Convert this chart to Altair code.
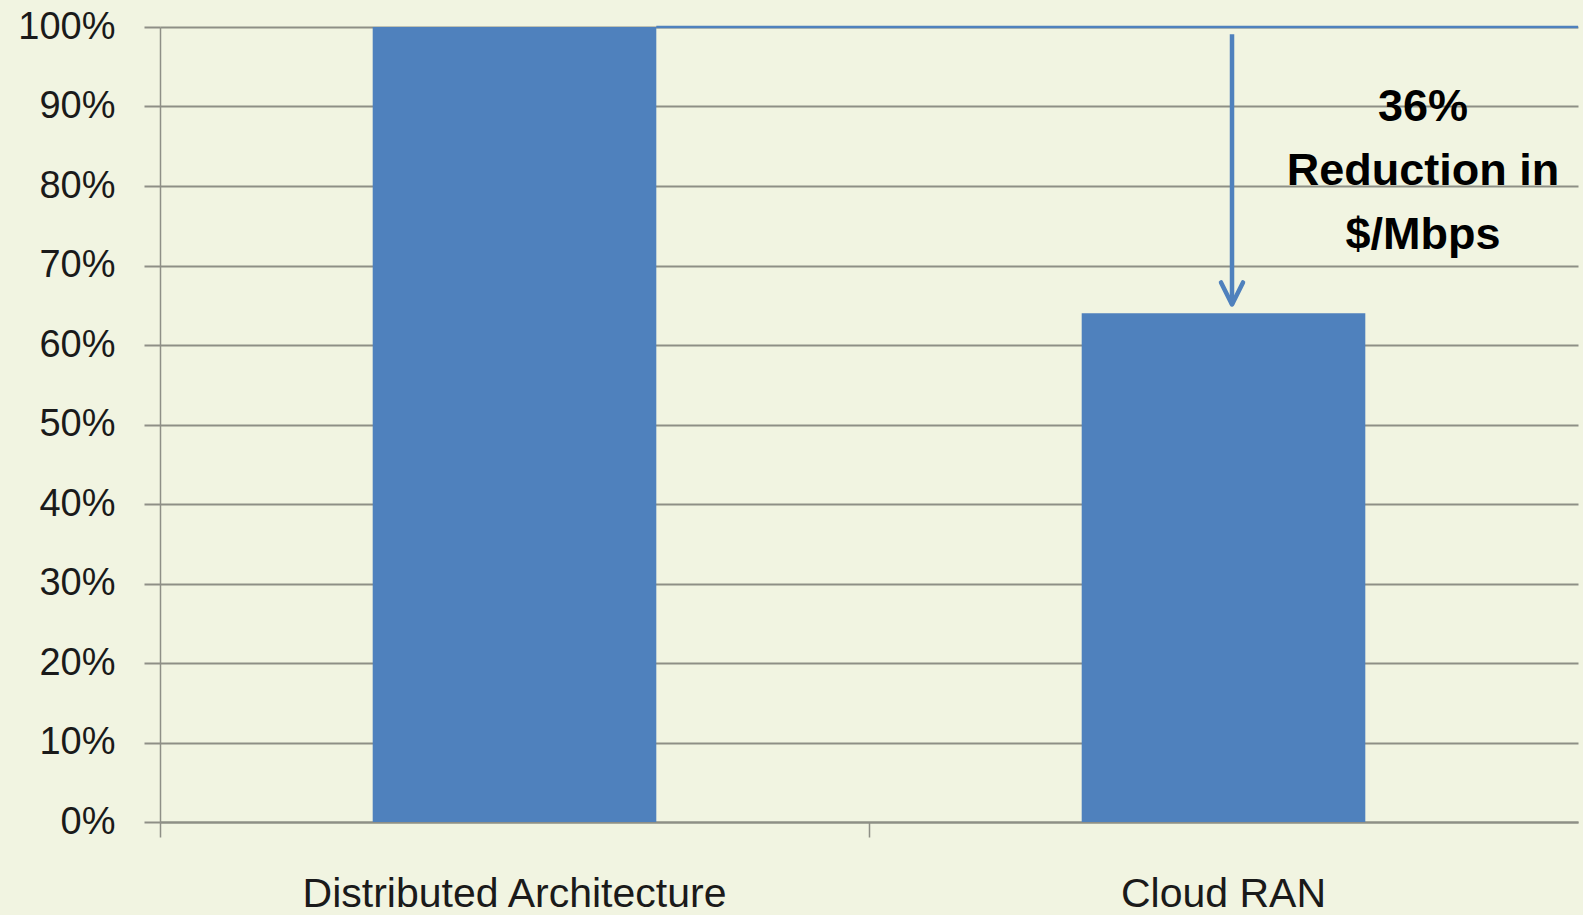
import altair as alt
import pandas as pd

# Relative cost per Mbps for the two RAN architectures
categories = ["Distributed Architecture", "Cloud RAN"]
cost_per_mbps = [1.00, 0.64]
callout_lines = ["36%", "Reduction in", "$/Mbps"]
y_ticks = [0.0, 0.1, 0.2, 0.3, 0.4, 0.5, 0.6, 0.7, 0.8, 0.9, 1.0]

BLUE = "#4F81BD"
GRID = "#8e8f86"
BG = "#F1F4E1"

PLOT_W = 1418
PLOT_H = 795

bars_df = pd.DataFrame({"arch": categories, "cost": cost_per_mbps})

# reference level of the baseline architecture, drawn from the end of its bar
baseline_df = pd.DataFrame({"arch": [categories[0]], "cost": [cost_per_mbps[0]]})

# arrow from the baseline level down to the Cloud RAN bar
arrow_df = pd.DataFrame({
    "arch": [categories[1]],
    "top": [cost_per_mbps[0] - 0.009],
    "tip": [cost_per_mbps[1] + 0.011],
})

callout_df = pd.DataFrame({"arch": [categories[1]], "label": ["\n".join(callout_lines)]})

# each category owns a full step; bars take 40% of it, centred
x_scale = alt.Scale(domain=categories, paddingInner=0, paddingOuter=0)
y_scale = alt.Scale(domain=[0, 1], nice=False)

BAR_FRAC = 0.4

bars = alt.Chart(bars_df).mark_bar(
    color=BLUE, width=alt.RelativeBandSize(BAR_FRAC)
).encode(
    x=alt.X(
        "arch:N",
        scale=x_scale,
        sort=categories,
        axis=alt.Axis(
            title=None,
            bandPosition=0,
            labelAngle=0,
            labelLimit=0,
            labelAlign="center",
            labelFont="Liberation Sans",
            labelFontSize=41,
            labelColor="#1a1a1a",
            labelPadding=37,
            labelBaseline="top",
            tickSize=15,
            tickColor=GRID,
            tickWidth=1.5,
            domainColor=GRID,
            domainWidth=2,
            grid=False,
        ),
    ),
    y=alt.Y(
        "cost:Q",
        scale=y_scale,
        axis=alt.Axis(
            title=None,
            values=y_ticks,
            format=".0%",
            labelFont="Liberation Sans",
            labelFontSize=38,
            labelColor="#1a1a1a",
            labelPadding=29,
            tickSize=16,
            tickColor=GRID,
            tickWidth=2,
            domainColor=GRID,
            domainWidth=1.5,
            grid=True,
            gridColor=GRID,
            gridWidth=2,
        ),
    ),
)

baseline = alt.Chart(baseline_df).mark_rule(color=BLUE, strokeWidth=2.5).encode(
    x=alt.X("arch:N", sort=categories, bandPosition=0.5 + BAR_FRAC / 2),
    x2=alt.value("width"),
    y=alt.Y("cost:Q"),
)

ARROW_POS = 0.512

shaft = alt.Chart(arrow_df).mark_rule(color=BLUE, strokeWidth=4.5).encode(
    x=alt.X("arch:N", sort=categories, bandPosition=ARROW_POS),
    y=alt.Y("top:Q"),
    y2="tip:Q",
)

head = alt.Chart(arrow_df).mark_point(
    shape="M -1 -2 L 0 0 L 1 -2",
    filled=False,
    color=BLUE,
    strokeWidth=4.5,
    size=484,
    opacity=1,
    strokeCap="round",
    strokeJoin="round",
).encode(
    x=alt.X("arch:N", sort=categories, bandPosition=ARROW_POS),
    y=alt.Y("tip:Q"),
)

callout = alt.Chart(callout_df).mark_text(
    font="Liberation Sans",
    fontSize=45,
    fontWeight="bold",
    color="#000000",
    align="center",
    baseline="middle",
    lineBreak="\n",
    lineHeight=64,
).encode(
    x=alt.value(1263),
    y=alt.value(80),
    text="label:N",
)

chart = (
    alt.layer(bars, baseline, shaft, head, callout)
    .properties(
        width=PLOT_W,
        height=PLOT_H,
        background=BG,
        padding={"left": 160, "top": 27, "right": 5, "bottom": 93},
        autosize=alt.AutoSizeParams(type="none"),
    )
    .configure_view(stroke=None)
)

chart.save("out.html", embed_options={"renderer": "svg", "actions": False})
